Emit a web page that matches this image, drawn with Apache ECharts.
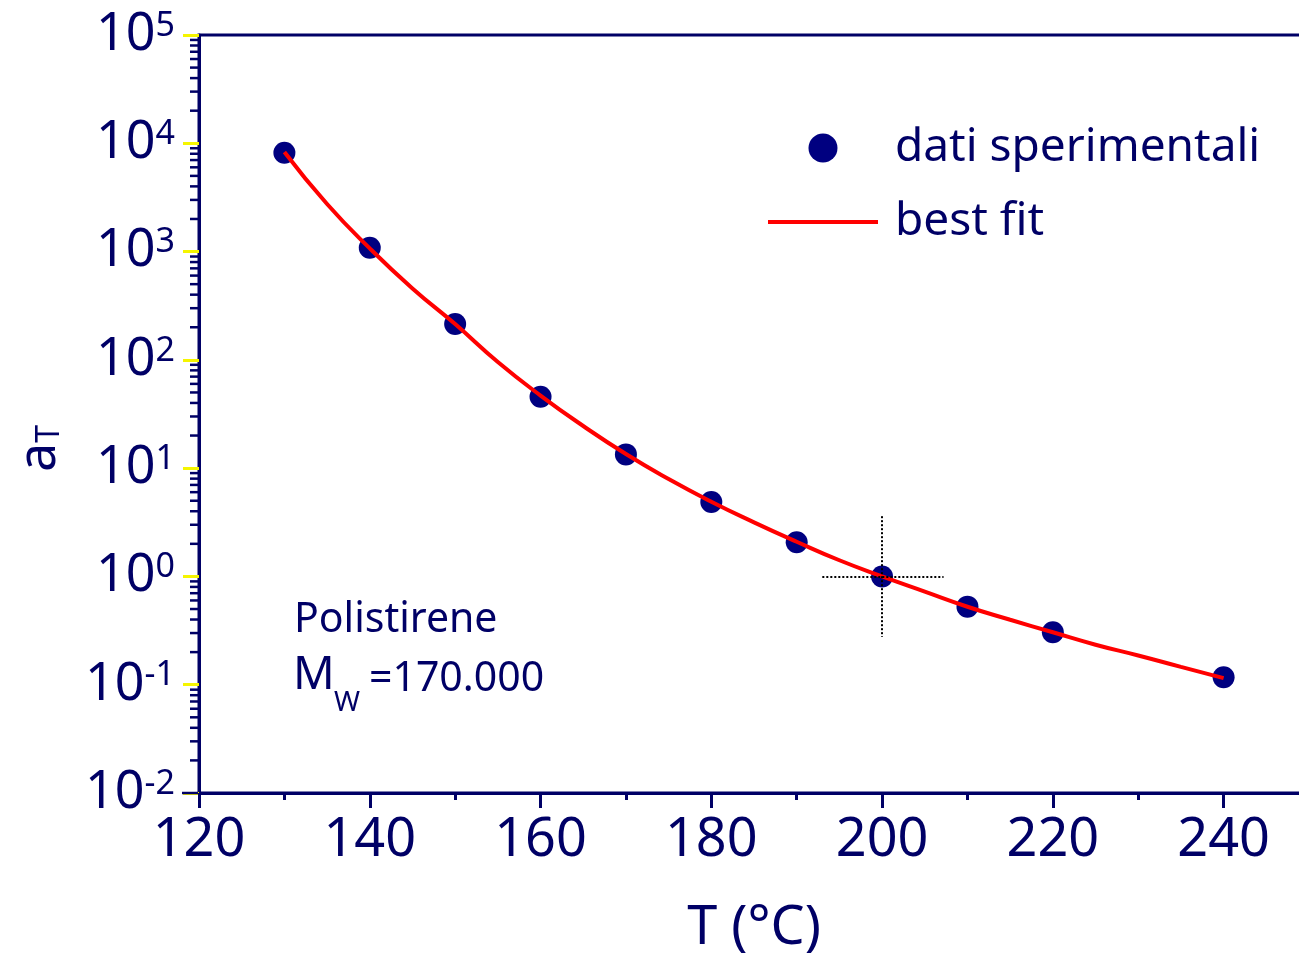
<!DOCTYPE html>
<html>
<head>
<meta charset="utf-8">
<title>Fattore di shift a_T - Polistirene</title>
<script src="https://cdn.jsdelivr.net/npm/echarts@6/dist/echarts.min.js"></script>
<style>
  html, body { margin: 0; padding: 0; background: #ffffff; }
  #chart { width: 1299px; height: 960px; }
</style>
</head>
<body>
<div id="chart"></div>
<script>
// Experimental shift factors a_T (polystyrene, Mw = 170.000) vs temperature
const temperatures = [130, 140, 150, 160, 170, 180, 190, 200, 210, 220, 240];
const shiftFactors = [8190, 1086, 214, 45.7, 13.4, 4.87, 2.07, 1.00, 0.526, 0.305, 0.117];

// Best-fit curve sampled every 5 °C
const fitTemperatures = [130, 135, 140, 145, 150, 155, 160, 165, 170, 175, 180, 185,
                         190, 195, 200, 205, 210, 215, 220, 225, 230, 235, 240];
const fitValues = [8320, 2750, 1070, 457, 214, 95.5, 46.8, 24.5, 13.5, 7.94, 4.90, 3.16,
                   2.09, 1.41, 1.00, 0.724, 0.525, 0.398, 0.305, 0.234, 0.186, 0.146, 0.115];

// Reference temperature crosshair (T0 = 200 °C, a_T = 1)
const crossH = [[193.0, 1], [207.2, 1]];
const crossV = [[200, 3.6], [200, 0.276]];

// Axis ticks
const yDecades = [-2, -1, 0, 1, 2, 3, 4, 5];
const minorMultipliers = [2, 3, 4, 5, 6, 7, 8, 9];

const NAVY = '#000066';
const DOT = '#000080';
const RED = '#ff0000';
const FONT = '"Noto Sans", sans-serif';

// minor log ticks (2..9 x 10^k) drawn next to the left axis
const minorTicks = [];
yDecades.slice(0, -1).forEach(function (k) {
  minorMultipliers.forEach(function (m) {
    minorTicks.push([120, m * Math.pow(10, k), 8]);
  });
});
// navy corner tick where the bottom axis meets the left axis
minorTicks.push([120, Math.pow(10, yDecades[0]), 16]);

const chart = echarts.init(document.getElementById('chart'), null, { renderer: 'canvas' });

chart.setOption({
  backgroundColor: '#ffffff',
  animation: false,
  grid: {
    left: 199, top: 35, width: 1110, height: 758,
    outerBoundsMode: 'none', containLabel: false,
    show: true, borderColor: NAVY, borderWidth: 3, backgroundColor: 'transparent'
  },
  legend: {
    orient: 'vertical',
    left: 768, top: 125, padding: 0,
    itemWidth: 110, itemHeight: 29, itemGap: 28,
    selectedMode: false,
    textStyle: { fontFamily: FONT, fontSize: 46, color: NAVY, padding: [0, 0, 0, 12] },
    data: [
      { name: 'dati sperimentali', icon: 'circle' },
      { name: 'best fit', icon: 'path://M0,0H110V4H0Z' }
    ]
  },
  xAxis: [
    {
      type: 'value', min: 120, max: 250, interval: 10,
      axisLine: { show: true, lineStyle: { color: NAVY, width: 3 } },
      axisTick: { show: true, length: 7, lineStyle: { color: NAVY, width: 3 } },
      splitLine: { show: false },
      axisLabel: {
        margin: 21, fontFamily: FONT, fontSize: 54, lineHeight: 54, color: NAVY,
        formatter: function (v) { return v % 20 === 0 ? String(v) : ''; }
      },
      name: 'T (°C)', nameLocation: 'middle', nameGap: 109,
      nameTextStyle: { fontFamily: FONT, fontSize: 54, lineHeight: 54, color: NAVY }
    },
    {
      type: 'value', min: 120, max: 250, interval: 20, position: 'bottom',
      axisLine: { show: false },
      axisTick: { show: true, length: 15, lineStyle: { color: NAVY, width: 3 } },
      axisLabel: { show: false },
      splitLine: { show: false }
    }
  ],
  yAxis: {
    type: 'log', logBase: 10, min: 0.01, max: 100000, splitNumber: 7,
    axisLine: { show: true, lineStyle: { color: NAVY, width: 3 } },
    axisTick: { show: true, length: 16, lineStyle: { color: '#f5f500', width: 3 } },
    splitLine: { show: false },
    axisLabel: {
      margin: 24, color: NAVY, fontFamily: FONT,
      formatter: function (v) {
        const e = Math.round(Math.log10(v));
        return '{b|10}{e|' + e + '}';
      },
      rich: {
        b: { fontFamily: FONT, fontSize: 52, lineHeight: 52, color: NAVY, padding: [12, 0, 0, 0], verticalAlign: 'bottom' },
        e: { fontFamily: FONT, fontSize: 34, lineHeight: 34, color: NAVY, verticalAlign: 'top' }
      }
    }
  },
  graphic: [
    {
      type: 'text', left: 14, top: 425, rotation: Math.PI / 2, originX: 0, originY: 0,
      style: {
        x: 0, y: 0,
        text: '{a|a}{t|T}',
        rich: {
          a: { fontFamily: FONT, fontSize: 52, lineHeight: 52, fill: NAVY, padding: [0, 0, 14, 0], verticalAlign: 'top' },
          t: { fontFamily: FONT, fontSize: 32, lineHeight: 32, fill: NAVY, verticalAlign: 'bottom' }
        }
      }
    },
    {
      type: 'text', left: 294, top: 600,
      style: { text: 'Polistirene', fontFamily: FONT, fontSize: 41, fill: NAVY }
    },
    {
      type: 'text', left: 293, top: 653,
      style: { text: 'M', fontFamily: FONT, fontSize: 46, fill: NAVY }
    },
    {
      type: 'text', left: 334, top: 689,
      style: { text: 'W', fontFamily: FONT, fontSize: 28, fill: NAVY }
    },
    {
      type: 'text', left: 369, top: 659,
      style: { text: '=170.000', fontFamily: FONT, fontSize: 41, fill: NAVY }
    }
  ],
  series: [
    {
      name: 'dati sperimentali',
      type: 'scatter',
      xAxisIndex: 0,
      symbol: 'circle', symbolSize: 22,
      itemStyle: { color: DOT, opacity: 1 },
      z: 2,
      data: temperatures.map(function (t, i) { return [t, shiftFactors[i]]; }),
      markLine: {
        silent: true, symbol: 'none',
        label: { show: false },
        lineStyle: { color: '#000000', width: 2, type: [2, 2] },
        data: [
          [{ coord: crossH[0] }, { coord: crossH[1] }],
          [{ coord: crossV[0] }, { coord: crossV[1] }]
        ]
      }
    },
    {
      name: 'best fit',
      type: 'line',
      xAxisIndex: 0,
      symbol: 'none', showSymbol: false,
      smooth: true,
      lineStyle: { color: RED, width: 4 },
      itemStyle: { color: RED },
      z: 3,
      data: fitTemperatures.map(function (t, i) { return [t, fitValues[i]]; })
    },
    {
      name: 'minorTicks',
      type: 'custom',
      xAxisIndex: 0,
      clip: false, silent: true, z: 4,
      renderItem: function (params, api) {
        const p = api.coord([api.value(0), api.value(1)]);
        const len = api.value(2);
        return {
          type: 'line',
          shape: { x1: p[0] - len - 1, y1: p[1], x2: p[0] - 1, y2: p[1] },
          style: { stroke: NAVY, lineWidth: 2.5 }
        };
      },
      data: minorTicks
    }
  ]
});
</script>
</body>
</html>
